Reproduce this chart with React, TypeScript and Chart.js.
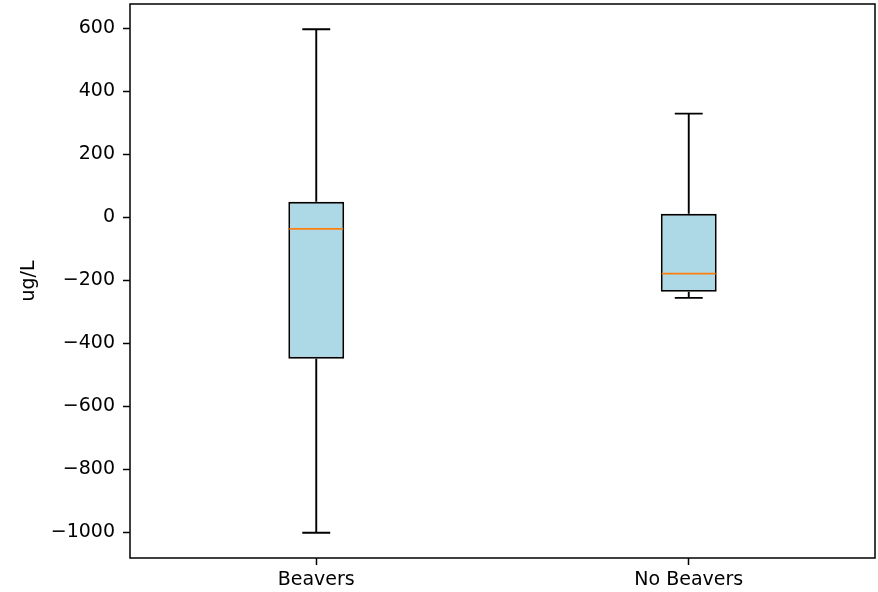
import React, { useEffect, useRef } from "react";
import { Chart, registerables } from "chart.js";

Chart.register(...registerables);

const categories = ["Beavers", "No Beavers"];
const whiskerLow = [-1002, -256];
const quartile1 = [-449, -237];
const medians = [-37, -179];
const quartile3 = [49, 11];
const whiskerHigh = [597, 329];
const yTicks = [-1000, -800, -600, -400, -200, 0, 200, 400, 600];
const yMin = -1082;
const yMax = 677;
const yTitle = "ug/L";

const FONT = "'DejaVu Sans', sans-serif";

const boxPlugin = {
  id: "boxExtras",
  afterDatasetsDraw(chart: any) {
    const ctx = chart.ctx;
    const xs = chart.scales.x;
    const ys = chart.scales.y;
    const meta = chart.getDatasetMeta(0);
    ctx.save();
    categories.forEach((_c, i) => {
      const bar = meta.data[i];
      const cx = xs.getPixelForValue(i);
      const w = bar.width;
      const cap = w / 4;
      const yHi = ys.getPixelForValue(whiskerHigh[i]);
      const yLo = ys.getPixelForValue(whiskerLow[i]);
      const yQ1 = ys.getPixelForValue(quartile1[i]);
      const yQ3 = ys.getPixelForValue(quartile3[i]);
      const yMed = ys.getPixelForValue(medians[i]);
      ctx.strokeStyle = "#000";
      ctx.lineWidth = 1.9;
      ctx.beginPath();
      ctx.moveTo(cx, yQ3);
      ctx.lineTo(cx, yHi);
      ctx.moveTo(cx, yQ1);
      ctx.lineTo(cx, yLo);
      ctx.moveTo(cx - cap, yHi);
      ctx.lineTo(cx + cap, yHi);
      ctx.moveTo(cx - cap, yLo);
      ctx.lineTo(cx + cap, yLo);
      ctx.stroke();
      ctx.strokeStyle = "#FF7F0E";
      ctx.beginPath();
      ctx.moveTo(cx - w / 2 + 1, yMed);
      ctx.lineTo(cx + w / 2 - 1, yMed);
      ctx.stroke();
    });
    const a = chart.chartArea;
    ctx.strokeStyle = "#000";
    ctx.lineWidth = 1.5;
    ctx.strokeRect(a.left, a.top, a.right - a.left, a.bottom - a.top);
    ctx.restore();
  },
};

export default function App() {
  const ref = useRef<HTMLCanvasElement | null>(null);
  useEffect(() => {
    if (!ref.current) return;
    const chart = new Chart(ref.current, {
      type: "bar",
      data: {
        labels: categories,
        datasets: [
          {
            data: categories.map((_c, i) => [quartile1[i], quartile3[i]]) as any,
            backgroundColor: "#ADD8E6",
            borderColor: "#000",
            borderWidth: 1.9,
            borderSkipped: false,
            barPercentage: 0.15,
            categoryPercentage: 1,
          },
        ],
      },
      options: {
        responsive: false,
        animation: false,
        devicePixelRatio: 1,
        layout: { padding: { left: 0, right: 3, top: 4, bottom: 0 } },
        plugins: { legend: { display: false }, tooltip: { enabled: false } },
        scales: {
          x: {
            type: "category",
            offset: true,
            grid: {
              offset: false,
              drawOnChartArea: false,
              drawTicks: true,
              tickLength: 7,
              tickColor: "#000",
              tickWidth: 1.5,
            },
            border: { display: false },
            ticks: {
              color: "#000",
              font: { family: FONT, size: 19 },
              padding: 4,
              maxRotation: 0,
            },
            afterFit(scale: any) {
              scale.height = 34;
              scale.paddingLeft = 0;
              scale.paddingRight = 0;
            },
          },
          y: {
            type: "linear",
            min: yMin,
            max: yMax,
            afterBuildTicks(scale: any) {
              scale.ticks = yTicks.map((v) => ({ value: v }));
            },
            grid: {
              drawOnChartArea: false,
              drawTicks: true,
              tickLength: 7,
              tickColor: "#000",
              tickWidth: 1.5,
            },
            border: { display: false },
            ticks: {
              color: "#000",
              font: { family: FONT, size: 19 },
              padding: 8,
              callback: (v: any) => String(v).replace("-", "\u2212"),
            },
            title: {
              display: true,
              text: yTitle,
              color: "#000",
              font: { family: FONT, size: 19 },
              padding: { top: 18, bottom: 0 },
            },
            afterFit(scale: any) {
              scale.width = 130;
              scale.paddingTop = 0;
              scale.paddingBottom = 0;
            },
          },
        },
      },
      plugins: [boxPlugin],
    });
    return () => chart.destroy();
  }, []);
  return (
    <div style={{ position: "absolute", left: 0, top: 0, width: 878, height: 592, background: "#fff" }}>
      <canvas ref={ref} width={878} height={592} />
    </div>
  );
}
